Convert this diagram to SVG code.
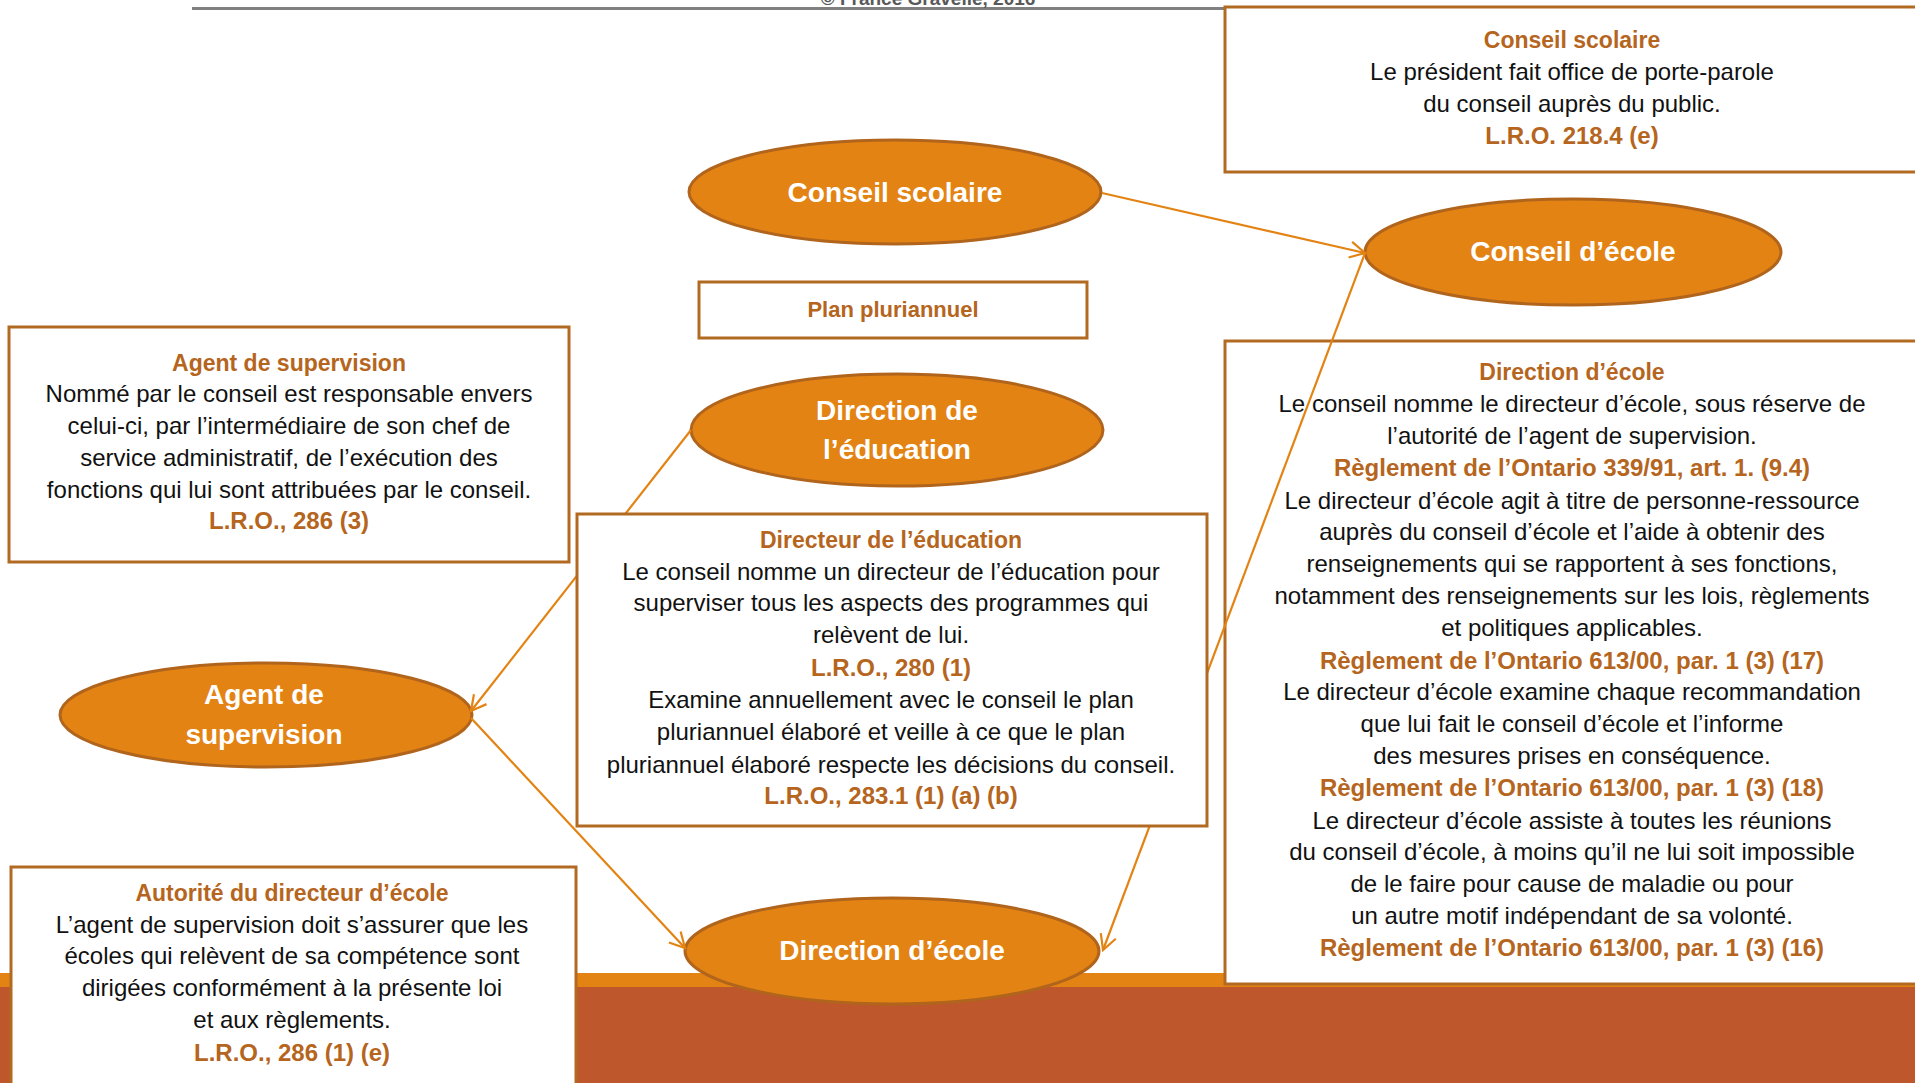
<svg xmlns="http://www.w3.org/2000/svg" width="1915" height="1083" viewBox="0 0 1915 1083">
<defs>
<style>
.box{fill:#fff;stroke:#B26A22;stroke-width:3}
.ell{fill:#E38313;stroke:#B0641C;stroke-width:3}
.t{font-family:"Liberation Sans",Arial,sans-serif;font-size:24px;fill:#111;text-anchor:middle}
.h{font-family:"Liberation Sans",Arial,sans-serif;font-size:23px;font-weight:bold;fill:#B5651D;text-anchor:middle}
.r{font-family:"Liberation Sans",Arial,sans-serif;font-size:24px;font-weight:bold;fill:#B5651D;text-anchor:middle}
.e{font-family:"Liberation Sans",Arial,sans-serif;font-size:28px;font-weight:bold;fill:#fff;text-anchor:middle}
.c{fill:none;stroke:#E38313;stroke-width:2.2}
</style>
<marker id="arr" viewBox="-17 -10 19 20" refX="0" refY="0" markerWidth="19" markerHeight="20" markerUnits="userSpaceOnUse" orient="auto">
<path d="M-15,-8 L0,0 L-15,8" fill="none" stroke="#E38313" stroke-width="2.2"/>
</marker>
</defs>
<rect x="0" y="0" width="1915" height="1083" fill="#fff"/>
<rect x="0" y="973" width="1915" height="14" fill="#E38313"/>
<rect x="0" y="987" width="1915" height="96" fill="#BE582C"/>
<line x1="192" y1="8.5" x2="1226" y2="8.5" stroke="#808080" stroke-width="3"/>
<text x="928" y="5" font-family="Liberation Sans,Arial,sans-serif" font-size="19" font-weight="bold" fill="#595959" text-anchor="middle">© France Gravelle, 2016</text>

<g id="box-conseil-scolaire">
<rect class="box" x="1225" y="7" width="700" height="165"/>
<text class="h" x="1572" y="48">Conseil scolaire</text>
<text class="t" x="1572" y="80">Le président fait office de porte-parole</text>
<text class="t" x="1572" y="112">du conseil auprès du public.</text>
<text class="r" x="1572" y="144">L.R.O. 218.4 (e)</text>
</g>

<g id="box-direction-ecole">
<rect class="box" x="1225" y="341" width="700" height="643"/>
<text class="h" x="1572" y="380">Direction d’école</text>
<text class="t" x="1572" y="412">Le conseil nomme le directeur d’école, sous réserve de</text>
<text class="t" x="1572" y="444">l’autorité de l’agent de supervision.</text>
<text class="r" x="1572" y="476">Règlement de l’Ontario 339/91, art. 1. (9.4)</text>
<text class="t" x="1572" y="509">Le directeur d’école agit à titre de personne-ressource</text>
<text class="t" x="1572" y="540">auprès du conseil d’école et l’aide à obtenir des</text>
<text class="t" x="1572" y="572">renseignements qui se rapportent à ses fonctions,</text>
<text class="t" x="1572" y="604">notamment des renseignements sur les lois, règlements</text>
<text class="t" x="1572" y="636">et politiques applicables.</text>
<text class="r" x="1572" y="669">Règlement de l’Ontario 613/00, par. 1 (3) (17)</text>
<text class="t" x="1572" y="700">Le directeur d’école examine chaque recommandation</text>
<text class="t" x="1572" y="732">que lui fait le conseil d’école et l’informe</text>
<text class="t" x="1572" y="764">des mesures prises en conséquence.</text>
<text class="r" x="1572" y="796">Règlement de l’Ontario 613/00, par. 1 (3) (18)</text>
<text class="t" x="1572" y="829">Le directeur d’école assiste à toutes les réunions</text>
<text class="t" x="1572" y="860">du conseil d’école, à moins qu’il ne lui soit impossible</text>
<text class="t" x="1572" y="892">de le faire pour cause de maladie ou pour</text>
<text class="t" x="1572" y="924">un autre motif indépendant de sa volonté.</text>
<text class="r" x="1572" y="956">Règlement de l’Ontario 613/00, par. 1 (3) (16)</text>
</g>

<g id="box-agent-supervision">
<rect class="box" x="9" y="327" width="560" height="235"/>
<text class="h" x="289" y="371">Agent de supervision</text>
<text class="t" x="289" y="402">Nommé par le conseil est responsable envers</text>
<text class="t" x="289" y="434">celui-ci, par l’intermédiaire de son chef de</text>
<text class="t" x="289" y="466">service administratif, de l’exécution des</text>
<text class="t" x="289" y="498">fonctions qui lui sont attribuées par le conseil.</text>
<text class="r" x="289" y="529">L.R.O., 286 (3)</text>
</g>

<g id="box-autorite">
<rect class="box" x="11" y="867" width="565" height="230"/>
<text class="h" x="292" y="901">Autorité du directeur d’école</text>
<text class="t" x="292" y="933">L’agent de supervision doit s’assurer que les</text>
<text class="t" x="292" y="964">écoles qui relèvent de sa compétence sont</text>
<text class="t" x="292" y="996">dirigées conformément à la présente loi</text>
<text class="t" x="292" y="1028">et aux règlements.</text>
<text class="r" x="292" y="1061">L.R.O., 286 (1) (e)</text>
</g>

<g id="box-plan">
<rect class="box" x="699" y="282" width="388" height="56"/>
<text class="h" x="893" y="317" style="font-size:22px">Plan pluriannuel</text>
</g>

<g id="node-conseil-scolaire">
<ellipse class="ell" cx="895" cy="192" rx="206" ry="52"/>
<text class="e" x="895" y="202">Conseil scolaire</text>
</g>
<g id="node-conseil-ecole">
<ellipse class="ell" cx="1573" cy="252" rx="208" ry="53"/>
<text class="e" x="1573" y="261">Conseil d’école</text>
</g>
<g id="node-direction-education">
<ellipse class="ell" cx="897" cy="430" rx="206" ry="56"/>
<text class="e" x="897" y="420">Direction de</text>
<text class="e" x="897" y="459">l’éducation</text>
</g>
<g id="node-agent-supervision">
<ellipse class="ell" cx="266" cy="715" rx="206" ry="52"/>
<text class="e" x="264" y="704">Agent de</text>
<text class="e" x="264" y="744">supervision</text>
</g>
<g id="node-direction-ecole">
<ellipse class="ell" cx="892" cy="951" rx="207" ry="53"/>
<text class="e" x="892" y="960">Direction d’école</text>
</g>

<g id="connectors">
<line class="c" x1="1102" y1="193" x2="1365" y2="253" marker-end="url(#arr)"/>
<line class="c" x1="1365" y1="253" x2="1103" y2="950" marker-end="url(#arr)"/>
<line class="c" x1="691" y1="430" x2="471" y2="711" marker-end="url(#arr)"/>
<line class="c" x1="471" y1="718" x2="685" y2="948" marker-end="url(#arr)"/>
</g>

<g id="box-directeur-education">
<rect class="box" x="577" y="514" width="630" height="312"/>
<text class="h" x="891" y="548">Directeur de l’éducation</text>
<text class="t" x="891" y="580">Le conseil nomme un directeur de l’éducation pour</text>
<text class="t" x="891" y="611">superviser tous les aspects des programmes qui</text>
<text class="t" x="891" y="643">relèvent de lui.</text>
<text class="r" x="891" y="676">L.R.O., 280 (1)</text>
<text class="t" x="891" y="708">Examine annuellement avec le conseil le plan</text>
<text class="t" x="891" y="740">pluriannuel élaboré et veille à ce que le plan</text>
<text class="t" x="891" y="773">pluriannuel élaboré respecte les décisions du conseil.</text>
<text class="r" x="891" y="804">L.R.O., 283.1 (1) (a) (b)</text>
</g>
</svg>
